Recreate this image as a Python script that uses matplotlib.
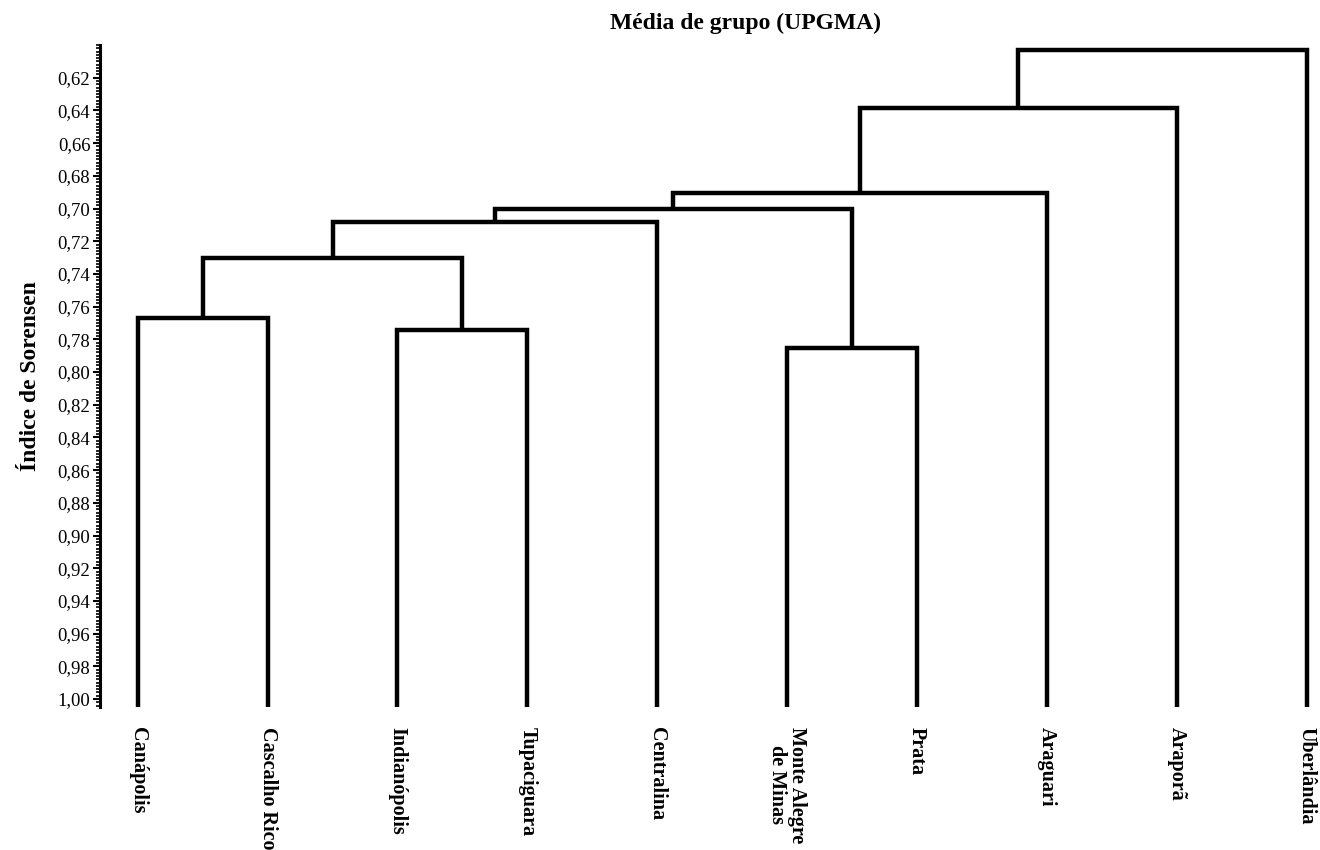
import matplotlib
matplotlib.use("Agg")
from matplotlib import pyplot as plt
from matplotlib.ticker import MultipleLocator, FuncFormatter
import numpy as np

# leaves in plotted order
leaves = ["Canápolis", "Cascalho Rico", "Indianópolis", "Tupaciguara", "Centralina",
          "Monte Alegre\nde Minas", "Prata", "Araguari", "Araporã", "Uberlândia"]

# UPGMA merges: (child a, child b, Sorensen distance); new clusters get ids 10, 11, ...
merge_a = [0, 2, 10, 12, 5, 13, 15, 16, 17]
merge_b = [1, 3, 11, 4, 6, 14, 7, 8, 9]
merge_h = [0.767, 0.774, 0.730, 0.7085, 0.785, 0.700, 0.6905, 0.6385, 0.603]

y_ticks = np.round(np.arange(0.62, 1.001, 0.02), 2)

serif = ["Liberation Serif", "DejaVu Serif"]
plt.rcParams["font.family"] = serif

fig = plt.figure(figsize=(13.2, 8.5), dpi=100)
ax = fig.add_axes([0.0758, 0.168, 0.92, 0.779])

y_bottom, y_top = 1.005, 0.600
n = len(leaves)
pos = {i: (float(i), y_bottom) for i in range(n)}

for k, (a, b, h) in enumerate(zip(merge_a, merge_b, merge_h)):
    xa, ha = pos[a]
    xb, hb = pos[b]
    ax.plot([xa, xa, xb, xb], [ha, h, h, hb], color="black", lw=3.2,
            solid_joinstyle="miter", solid_capstyle="butt")
    pos[n + k] = ((xa + xb) / 2, h)

ax.set_ylim(y_bottom, y_top)
ax.set_xlim(-0.29, 9.06)

ax.set_yticks(y_ticks)
ax.yaxis.set_major_formatter(FuncFormatter(lambda v, p: f"{v:.2f}".replace(".", ",")))
ax.yaxis.set_minor_locator(MultipleLocator(0.002))
ax.tick_params(axis="y", which="major", length=5, width=1.5, labelsize=13.5, pad=2)
ax.tick_params(axis="y", which="minor", length=3, width=1.2)

ax.set_xticks(range(n))
ax.set_xticklabels(leaves, rotation=270, fontsize=14.5, fontweight="bold",
                   ha="center", va="top", linespacing=1.0)
ax.tick_params(axis="x", length=0, pad=14)

for s in ["top", "right", "bottom"]:
    ax.spines[s].set_visible(False)
ax.spines["left"].set_linewidth(2.2)

ax.set_ylabel("Índice de Sorensen", fontsize=17, fontweight="bold", labelpad=12)
fig.text(0.565, 0.972, "Média de grupo (UPGMA)", fontsize=17, fontweight="bold",
         ha="center", va="center")

fig.savefig("out.png", dpi=100)
